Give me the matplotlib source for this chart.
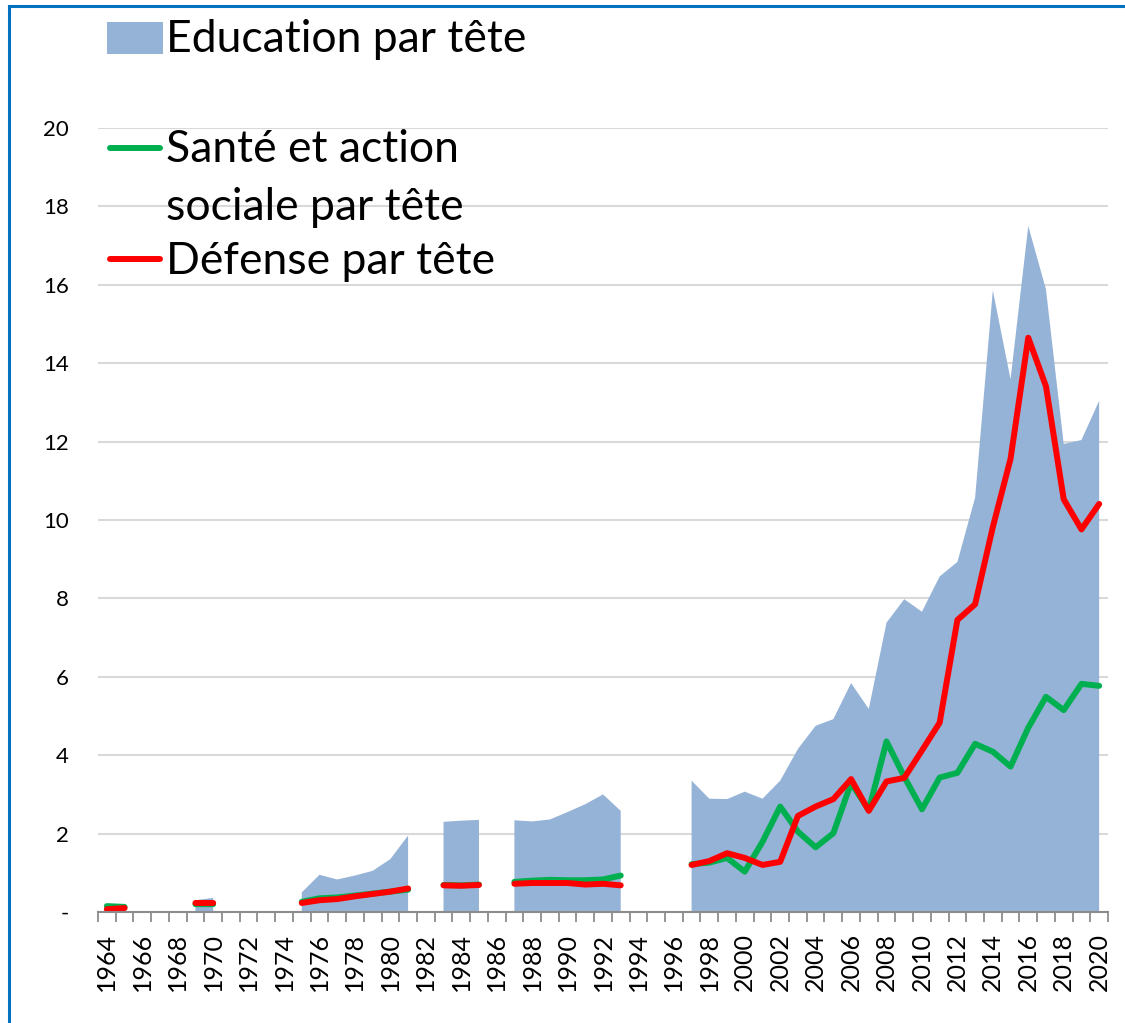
import numpy as np
import matplotlib
matplotlib.use('Agg')
import matplotlib.pyplot as plt
from matplotlib.lines import Line2D
from matplotlib.patches import Rectangle

nan = np.nan

years = list(range(1964, 2021))

# valeurs (par tête)
education = [0.2, 0.2, nan, nan, nan, 0.3, 0.36, nan, nan, nan,
             nan, 0.5, 0.95, 0.83, 0.93, 1.05, 1.35, 1.95, nan, 2.3,
             2.33, 2.35, nan, 2.34, 2.31, 2.36, 2.55, 2.75, 3.0, 2.58,
             nan, nan, nan, 3.35, 2.89, 2.88, 3.07, 2.89, 3.35, 4.16,
             4.75, 4.92, 5.84, 5.18, 7.38, 7.98, 7.66, 8.56, 8.93, 10.57,
             15.86, 13.59, 17.5, 15.88, 11.94, 12.04, 13.04]

sante = [0.15, 0.13, nan, nan, nan, 0.2, 0.2, nan, nan, nan,
         nan, 0.26, 0.35, 0.37, 0.42, 0.47, 0.52, 0.57, nan, 0.69,
         0.68, 0.7, nan, 0.77, 0.8, 0.82, 0.81, 0.81, 0.83, 0.93,
         nan, nan, nan, 1.22, 1.26, 1.38, 1.03, 1.79, 2.69, 2.05,
         1.65, 2.01, 3.29, 2.6, 4.35, 3.45, 2.62, 3.43, 3.55, 4.29,
         4.09, 3.71, 4.7, 5.49, 5.15, 5.82, 5.77]

defense = [0.07, 0.1, nan, nan, nan, 0.23, 0.23, nan, nan, nan,
           nan, 0.23, 0.3, 0.33, 0.4, 0.46, 0.52, 0.6, nan, 0.68,
           0.67, 0.69, nan, 0.72, 0.74, 0.74, 0.74, 0.7, 0.72, 0.68,
           nan, nan, nan, 1.2, 1.3, 1.5, 1.38, 1.2, 1.28, 2.45,
           2.69, 2.88, 3.39, 2.58, 3.33, 3.42, 4.12, 4.83, 7.45, 7.85,
           9.82, 11.56, 14.65, 13.41, 10.53, 9.76, 10.41]

x = np.array(years)
edu = np.array(education)
san = np.array(sante)
dfn = np.array(defense)

c_edu = '#95b3d7'
c_san = '#00b050'
c_def = '#ff0000'
font = 'Lato'

fig = plt.figure(figsize=(11.25, 10.23), dpi=100)
ax = fig.add_axes([98/1125, 1-912/1023, (1108-98)/1125, (912-128)/1023])

ax.fill_between(x, 0, edu, color=c_edu, lw=0, zorder=2)
ax.plot(x, san, color=c_san, lw=4.3, solid_capstyle='round', solid_joinstyle='round', zorder=3)
ax.plot(x, dfn, color=c_def, lw=4.3, solid_capstyle='round', solid_joinstyle='round', zorder=4)

ax.set_xlim(1963.5, 2020.5)
ax.set_ylim(0, 20)

ax.set_yticks(range(0, 21, 2))
ax.set_yticklabels(['-'] + [str(v) for v in range(2, 21, 2)], fontfamily=font, fontsize=16)
ax.yaxis.grid(True, color='#d9d9d9', lw=1.5, zorder=0)
ax.tick_params(axis='y', length=0, pad=21)

ax.set_xticks(range(1964, 2021, 2))
ax.set_xticklabels([str(v) for v in range(1964, 2021, 2)], rotation=90,
                   fontfamily=font, fontsize=18)
ax.set_xticks(np.arange(1963.5, 2021, 1), minor=True)
ax.tick_params(axis='x', which='major', length=0, pad=15)
ax.tick_params(axis='x', which='minor', length=7, width=1.3, color='#8c8c8c', direction='out')

for s in ['top', 'right', 'left']:
    ax.spines[s].set_visible(False)
ax.spines['bottom'].set_color('#8c8c8c')
ax.spines['bottom'].set_linewidth(1.5)
ax.spines['bottom'].set_zorder(5)
ax.set_axisbelow(True)

# légende
def fx(px):
    return px / 1125

def fy(py):
    return 1 - py / 1023

fig.patches.append(Rectangle((fx(107), fy(54)), fx(56), 32/1023, transform=fig.transFigure,
                             color=c_edu, lw=0))
fig.lines.append(Line2D([fx(110), fx(160)], [fy(148), fy(148)], transform=fig.transFigure,
                        color=c_san, lw=4.3, solid_capstyle='round'))
fig.lines.append(Line2D([fx(110), fx(160)], [fy(259), fy(259)], transform=fig.transFigure,
                        color=c_def, lw=4.3, solid_capstyle='round'))
lab_kw = dict(fontfamily=font, fontsize=32, va='center', ha='left')
fig.text(fx(166), fy(40), 'Education par tête', **lab_kw)
fig.text(fx(166), fy(150), 'Santé et action', **lab_kw)
fig.text(fx(166), fy(208), 'sociale par tête', **lab_kw)
fig.text(fx(166), fy(261), 'Défense par tête', **lab_kw)

# cadre bleu
fig.lines.append(Line2D([fx(8.5), fx(8.5)], [0, fy(6)], transform=fig.transFigure,
                        color='#0070c0', lw=2.2))
fig.lines.append(Line2D([fx(8.5), 1], [fy(6), fy(6)], transform=fig.transFigure,
                        color='#0070c0', lw=2.2))

fig.savefig('out.png', dpi=100)
